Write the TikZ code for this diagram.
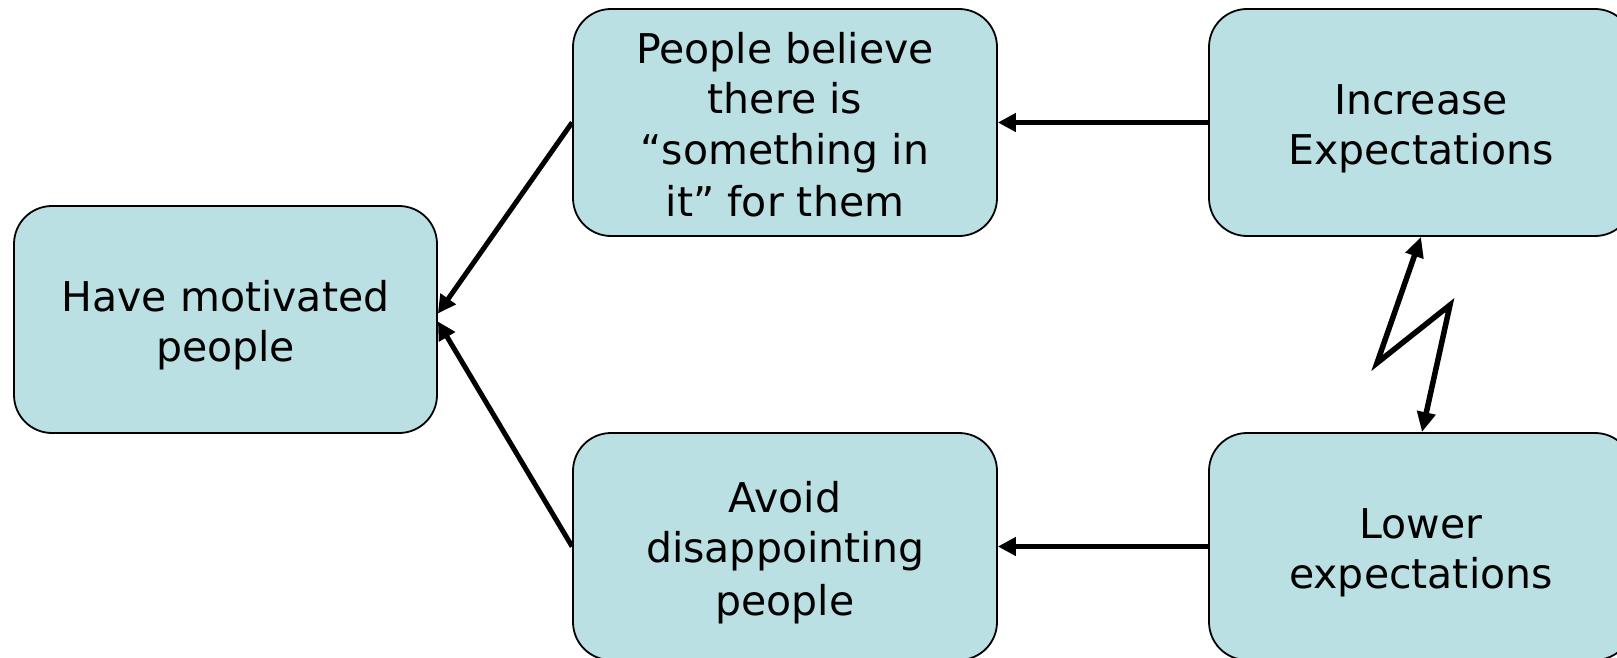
\documentclass[tikz,border=0pt]{standalone}
\usepackage{fontspec}
\setmainfont{DejaVu Sans}
\usepackage{tikz}
\usetikzlibrary{arrows.meta, positioning}
\usepackage{xcolor}
\definecolor{mfill}{HTML}{BAE0E3}
\definecolor{mline}{HTML}{000000}
% line box of a fixed height, so every box centres its lines alike
\newcommand{\ls}{\rule[-7.75pt]{0pt}{50.5pt}}
\tikzset{
  cbox/.style={draw=mline, fill=mfill, rounded corners=38pt, line width=1.8pt,
               minimum width=424pt, minimum height=227pt, inner sep=0pt,
               align=center, font=\fontsize{41}{50.5}\selectfont},
  arr/.style={-{Triangle[length=18pt, width=18pt]}, line width=5pt, mline},
  zarr/.style={{Triangle[length=20pt, width=18pt]}-{Triangle[length=20pt, width=18pt]},
               line width=5.5pt, mline, line join=miter},
}
\begin{document}
\begin{tikzpicture}[x=1pt, y=-1pt]
  \useasboundingbox (0,0) rectangle (1617,658);

  \node[cbox, minimum width=423pt] (motiv) at (225.5, 319.5) {\ls Have motivated\\people\ls};

  \node[cbox] (belief) at (785, 122.5) {\ls People believe\\there is\\“something in\\it” for them\ls};
  \node[cbox] (avoid) at (785, 546.5) {\ls Avoid\\disappointing\\people\ls};

  % right column runs past the page edge
  \node[cbox] (incr) at (1421, 122.5) {\ls Increase\\Expectations\ls};
  \node[cbox] (lower) at (1421, 546.5) {\ls Lower\\expectations\ls};

  \coordinate (z1) at (1377, 363);
  \coordinate (z2) at (1450, 305);

  \draw[arr] (incr) -- (belief);
  \draw[arr] (lower) -- (avoid);
  \draw[arr] (belief.west) -- ([yshift=6pt]motiv.east);
  \draw[arr] (avoid.west) -- ([yshift=-2pt]motiv.east);

  \draw[zarr] (incr.south) -- (z1) -- (z2) -- ([xshift=1pt]lower.north);
\end{tikzpicture}
\end{document}
